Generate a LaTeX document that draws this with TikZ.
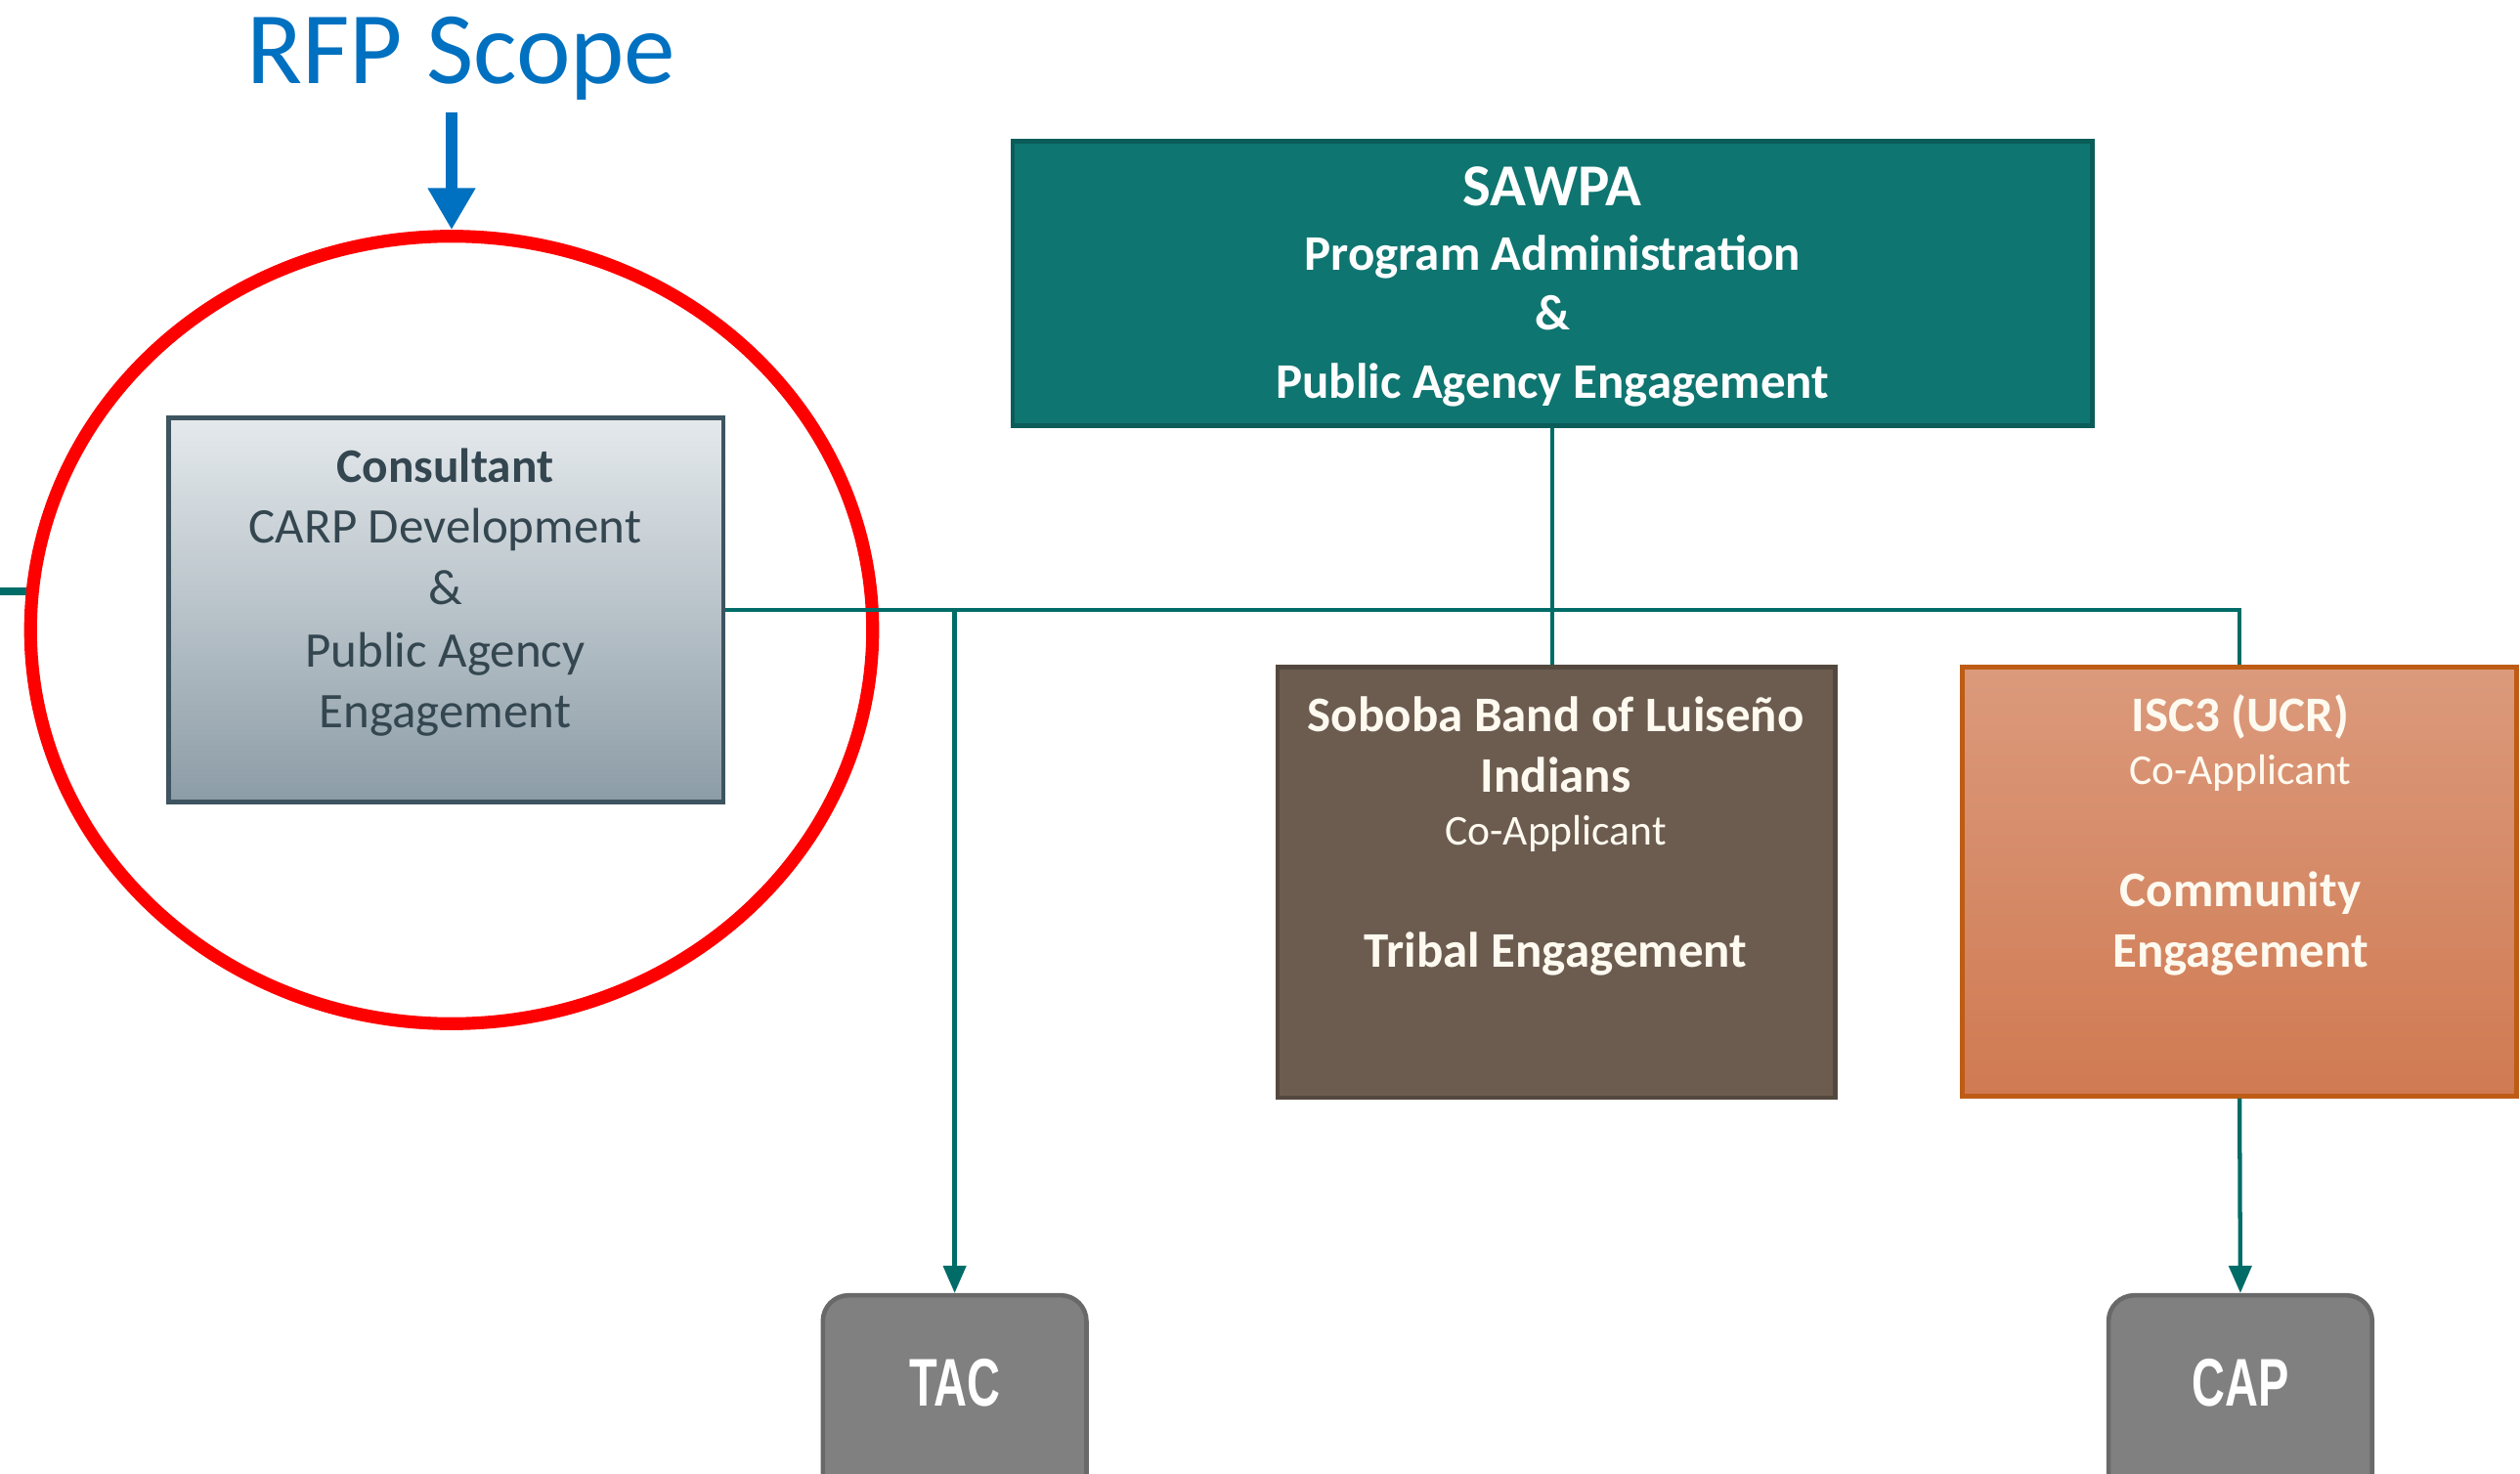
\documentclass[tikz,border=0pt]{standalone}
\usepackage{fontspec}
\setmainfont{Carlito}
\newfontfamily\arialfont{Liberation Sans}
\usetikzlibrary{arrows.meta,shapes.geometric}
\definecolor{connteal}{RGB}{0,108,104}
\definecolor{sawpafill}{RGB}{15,117,112}
\definecolor{sawpadraw}{RGB}{10,92,88}
\definecolor{sobfill}{RGB}{108,92,80}
\definecolor{sobdraw}{RGB}{84,72,62}
\definecolor{isctop}{RGB}{219,154,124}
\definecolor{iscbot}{RGB}{208,122,82}
\definecolor{iscdraw}{RGB}{190,92,22}
\definecolor{constop}{RGB}{228,233,236}
\definecolor{consbot}{RGB}{140,156,166}
\definecolor{consdraw}{RGB}{62,84,96}
\definecolor{constext}{RGB}{52,70,80}
\definecolor{grayfill}{RGB}{128,128,128}
\definecolor{graydraw}{RGB}{105,105,105}
\definecolor{rfpblue}{RGB}{0,112,192}
\definecolor{cream}{RGB}{255,250,240}
\begin{document}
\begin{tikzpicture}[x=1pt,y=-1pt,
  conn/.style={draw=connteal, line width=2.6pt},
  connarrow/.style={conn, -{Triangle[width=14pt,length=17pt]}},
  boxbase/.style={rectangle, inner sep=0pt, line width=2.8pt},
  lbl/.style={anchor=base, inner sep=0pt},
  ctext/.style={lbl, text=constext, font=\fontsize{31}{31}\selectfont},
  wtext/.style={lbl, text=white, font=\bfseries\fontsize{31}{31}\selectfont},
  ctsmall/.style={lbl, text=cream, font=\fontsize{26.5}{26.5}\selectfont},
  graybox/.style={boxbase, fill=grayfill, draw=graydraw, rounded corners=16pt, minimum width=164pt, minimum height=170pt},
  graytext/.style={lbl, text=white, font=\arialfont\bfseries\fontsize{42}{42}\selectfont}
]
\useasboundingbox (0,0) rectangle (1568,917);
\clip (0,0) rectangle (1568,917);

% RFP scope
\node[lbl, text=rfpblue, font=\fontsize{64}{64}\selectfont] (rfp) at (287,52) {RFP Scope};
\node[draw=red, line width=8pt, ellipse, inner sep=0pt, minimum width=524pt, minimum height=490pt] (scope) at (281,392) {};
\coordinate (rfpTop) at (281,70);
\draw[draw=rfpblue, line width=7pt, -{Triangle[width=28pt,length=26pt]}] (rfpTop) -- (scope.north);
\coordinate (stubL) at (0,368);
\draw[draw=connteal, line width=5pt] (stubL) -- (stubL -| scope.175);

% boxes
\node[boxbase, draw=consdraw, top color=constop, bottom color=consbot, minimum width=345pt, minimum height=239pt] (cons) at (277.5,379.5) {};
\node[boxbase, draw=sawpadraw, fill=sawpafill, minimum width=672pt, minimum height=177pt] (sawpa) at (966,176.5) {};
\node[boxbase, draw=sobdraw, fill=sobfill, minimum width=347pt, minimum height=268pt] (sob) at (968.5,549) {};
\node[boxbase, draw=iscdraw, top color=isctop, bottom color=iscbot, minimum width=345pt, minimum height=267pt] (isc) at (1393.5,548.5) {};
\node[graybox] (tac) at (594,891) {};
\node[graybox] (cap) at (1394,891) {};

% connectors
\draw[conn] (cons.east) -| (isc.north);
\draw[conn] (sawpa.south) -- (sawpa.south |- sob.north);
\coordinate (tacJ) at (594,379);
\draw[connarrow] (tacJ) -- (tac.north);
\draw[connarrow] (isc.south) -- (cap.north);

% consultant text
\node[ctext, font=\bfseries\fontsize{30}{30}\selectfont] (c1) at (277,300) {Consultant};
\node[ctext] (c2) at (277,338) {CARP Development};
\node[ctext] (c3) at (277,376) {\&};
\node[ctext] (c4) at (277,415) {Public Agency};
\node[ctext] (c5) at (277,453) {Engagement};

% SAWPA text
\node[wtext, font=\bfseries\fontsize{37}{37}\selectfont] (s1) at (966,128) {SAWPA};
\node[wtext] (s2) at (966,168) {Program Administration};
\node[wtext] (s3) at (966,205) {\&};
\node[wtext] (s4) at (966,248) {Public Agency Engagement};

% Soboba text
\node[wtext, text=cream] (b1) at (968,455) {Soboba Band of Luiseño};
\node[wtext, text=cream] (b2) at (968,493) {Indians};
\node[ctsmall] (b3) at (968,526) {Co-Applicant};
\node[wtext, text=cream] (b4) at (968,602) {Tribal Engagement};

% ISC3 text
\node[wtext, text=cream] (i1) at (1394,455) {ISC3 (UCR)};
\node[ctsmall] (i2) at (1394,488) {Co-Applicant};
\node[wtext, text=cream] (i3) at (1394,564) {Community};
\node[wtext, text=cream] (i4) at (1394,602) {Engagement};

% gray boxes text
\node[graytext] (t1) at (594,875) {\scalebox{0.68}[1]{TAC}};
\node[graytext] (p1) at (1394,875) {\scalebox{0.68}[1]{CAP}};
\end{tikzpicture}
\end{document}
